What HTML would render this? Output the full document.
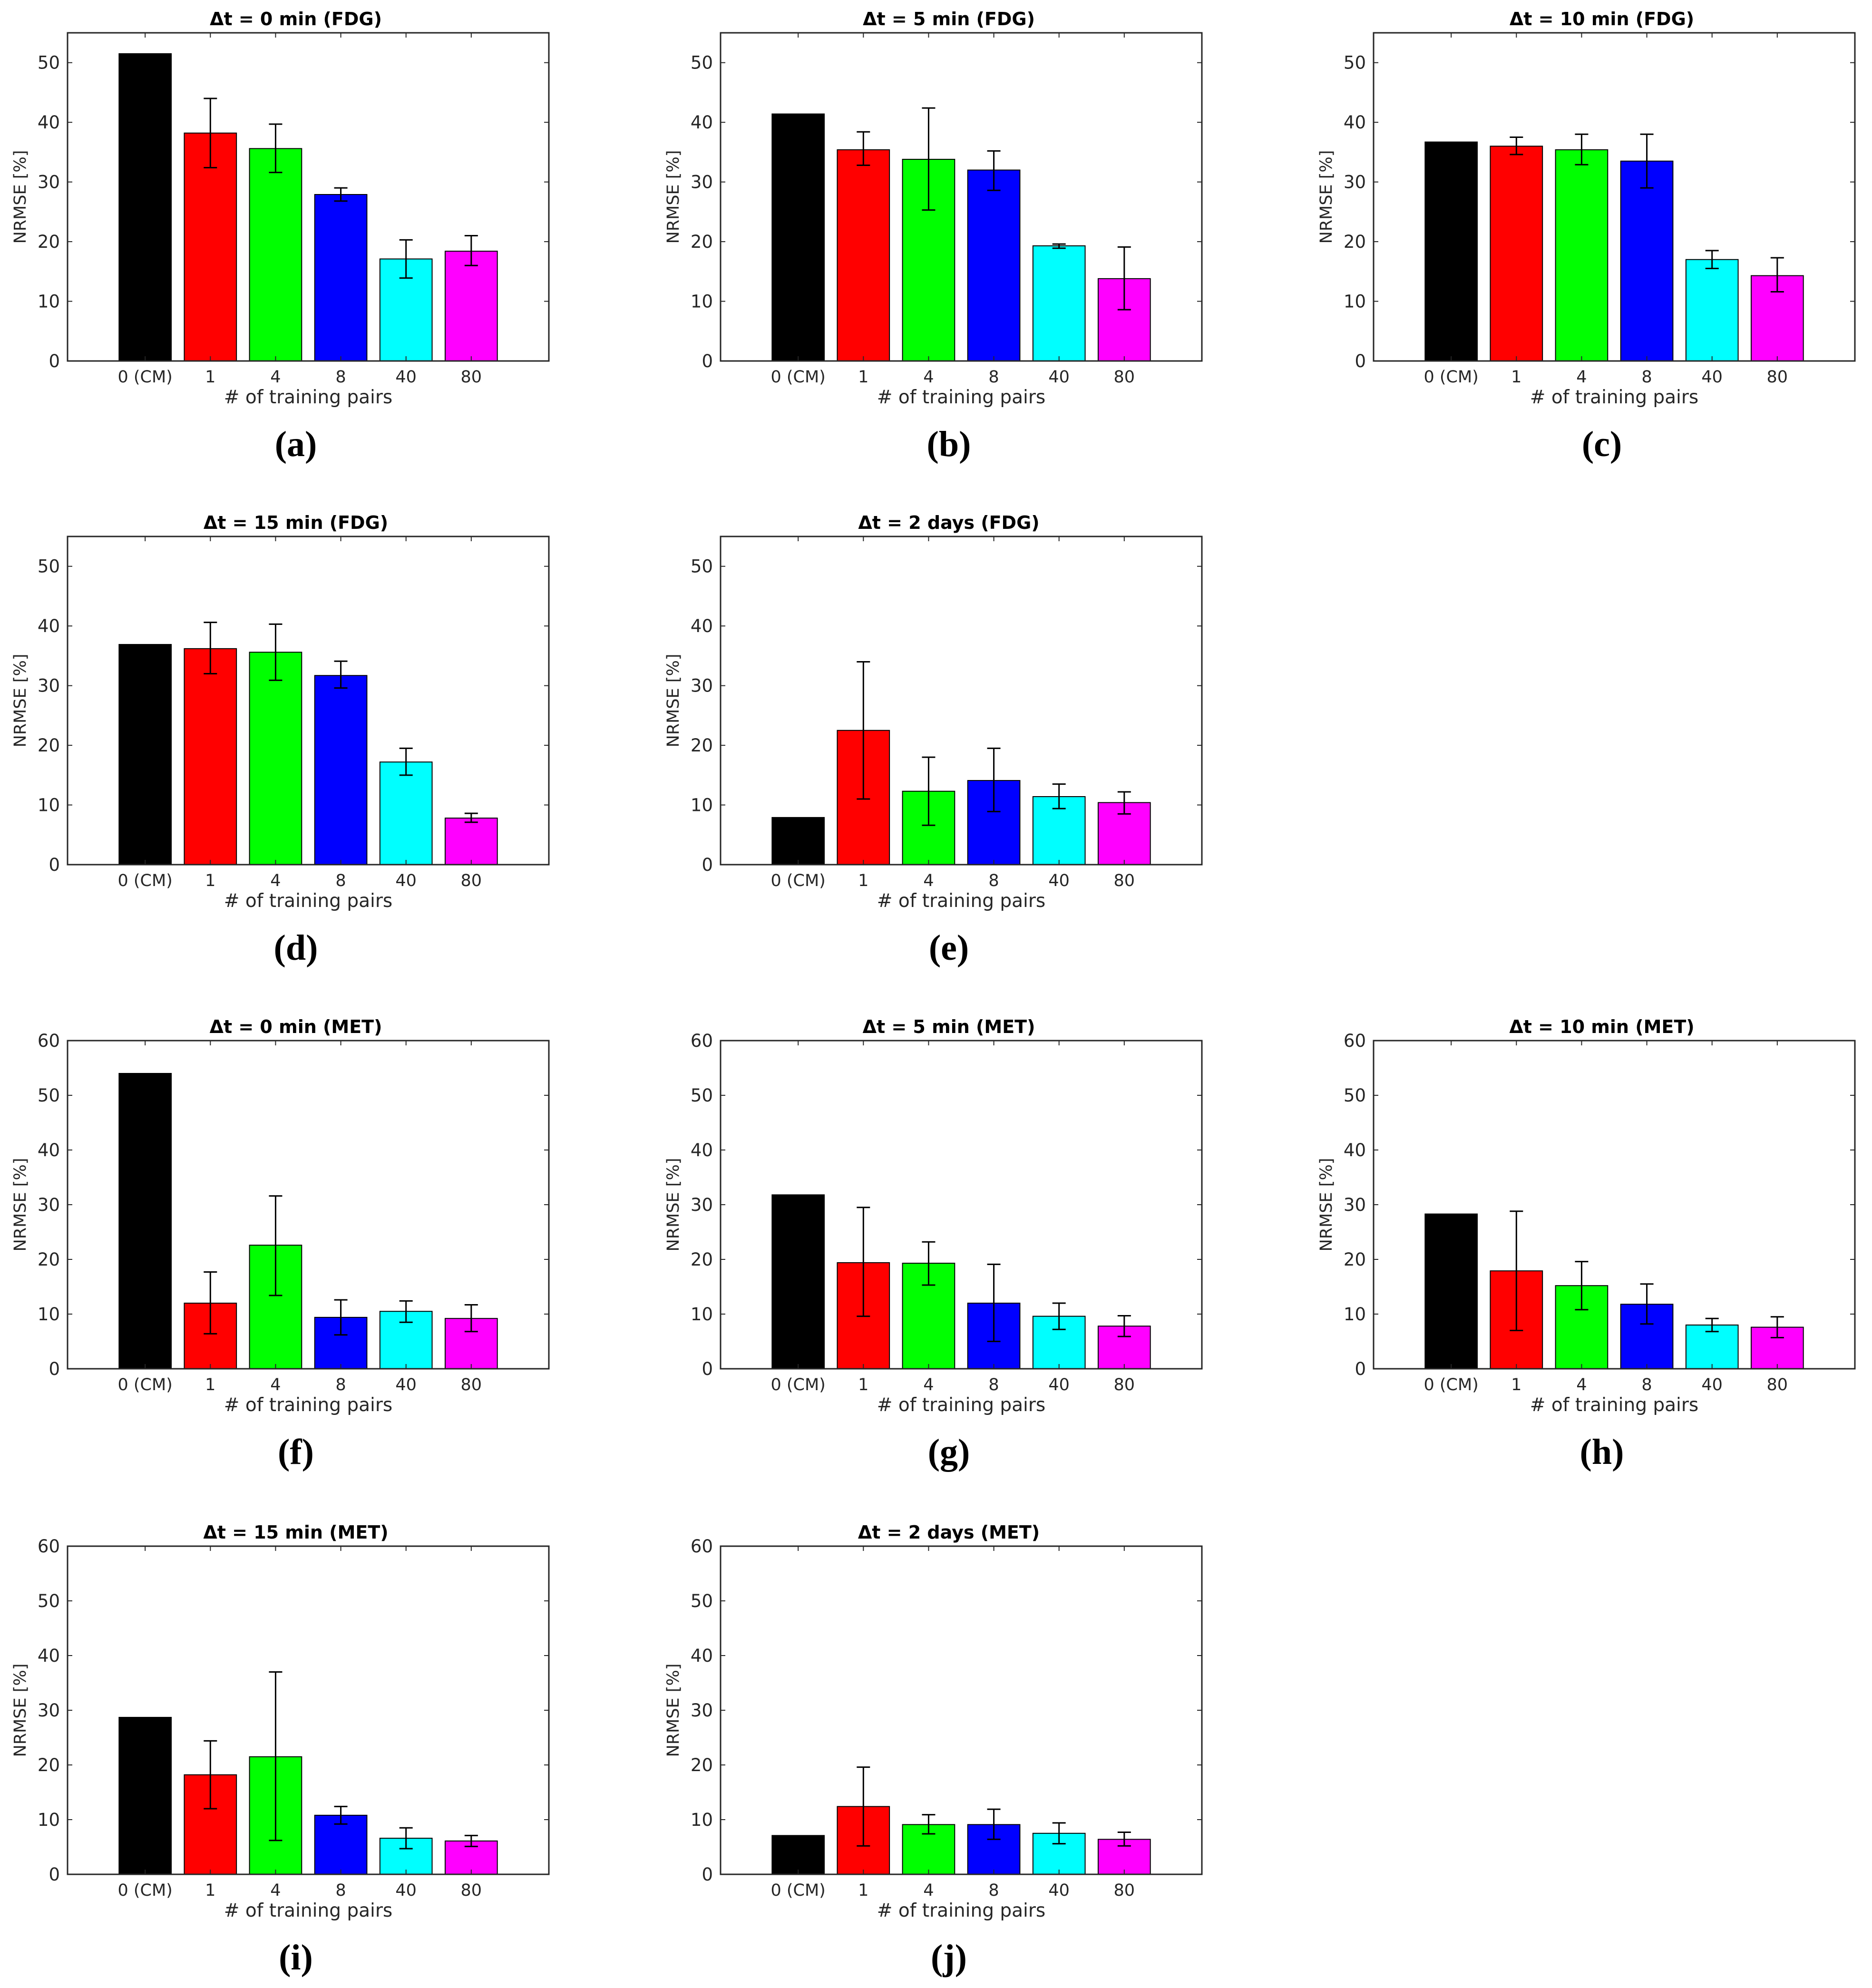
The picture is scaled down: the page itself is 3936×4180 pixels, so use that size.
<!DOCTYPE html>
<html><head><meta charset="utf-8"><style>
html,body{margin:0;padding:0;background:#fff;}
svg{display:block;}
</style></head><body>
<svg id="fig" width="3936" height="4180" viewBox="0 0 3936 4180" xmlns="http://www.w3.org/2000/svg"></svg>
<script>
const categories = ["0 (CM)", "1", "4", "8", "40", "80"];
const barColors = ["#000000", "#ff0000", "#00ff00", "#0000ff", "#00ffff", "#ff00ff"];
const titles = ["\u0394t = 0 min (FDG)", "\u0394t = 5 min (FDG)", "\u0394t = 10 min (FDG)", "\u0394t = 15 min (FDG)", "\u0394t = 2 days (FDG)",
  "\u0394t = 0 min (MET)", "\u0394t = 5 min (MET)", "\u0394t = 10 min (MET)", "\u0394t = 15 min (MET)", "\u0394t = 2 days (MET)"];
const panelLetters = ["(a)", "(b)", "(c)", "(d)", "(e)", "(f)", "(g)", "(h)", "(i)", "(j)"];
const yMaxes = [55, 55, 55, 55, 55, 60, 60, 60, 60, 60];
const yTicksFDG = [0, 10, 20, 30, 40, 50];
const yTicksMET = [0, 10, 20, 30, 40, 50, 60];
const means = [
  [51.5, 38.2, 35.6, 27.9, 17.1, 18.4],
  [41.4, 35.4, 33.8, 32.0, 19.3, 13.8],
  [36.7, 36.0, 35.4, 33.5, 17.0, 14.3],
  [36.9, 36.2, 35.6, 31.7, 17.2, 7.8],
  [7.9, 22.5, 12.3, 14.1, 11.4, 10.4],
  [54.0, 12.0, 22.6, 9.4, 10.5, 9.2],
  [31.8, 19.4, 19.3, 12.0, 9.6, 7.8],
  [28.3, 17.9, 15.2, 11.8, 8.0, 7.6],
  [28.7, 18.2, 21.5, 10.8, 6.6, 6.1],
  [7.1, 12.4, 9.1, 9.1, 7.5, 6.4]
];
const errLow = [
  [null, 32.4, 31.6, 26.8, 13.9, 16.0],
  [null, 32.8, 25.3, 28.6, 18.9, 8.6],
  [null, 34.6, 32.9, 29.0, 15.5, 11.6],
  [null, 32.0, 30.9, 29.6, 15.0, 7.1],
  [null, 11.0, 6.6, 8.9, 9.4, 8.5],
  [null, 6.4, 13.4, 6.2, 8.5, 6.8],
  [null, 9.6, 15.3, 5.0, 7.2, 5.9],
  [null, 7.0, 10.8, 8.2, 6.8, 5.7],
  [null, 12.0, 6.2, 9.2, 4.7, 5.1],
  [null, 5.2, 7.4, 6.4, 5.6, 5.2]
];
const errHigh = [
  [null, 44.0, 39.7, 29.0, 20.3, 21.0],
  [null, 38.4, 42.4, 35.2, 19.6, 19.1],
  [null, 37.5, 38.0, 38.0, 18.5, 17.3],
  [null, 40.6, 40.3, 34.1, 19.5, 8.6],
  [null, 34.0, 18.0, 19.5, 13.5, 12.2],
  [null, 17.7, 31.6, 12.6, 12.4, 11.7],
  [null, 29.5, 23.2, 19.1, 12.0, 9.7],
  [null, 28.8, 19.6, 15.5, 9.2, 9.5],
  [null, 24.4, 37.0, 12.4, 8.5, 7.1],
  [null, 19.6, 10.9, 11.9, 9.4, 7.7]
];

const NS = "http://www.w3.org/2000/svg";
const svg = document.getElementById("fig");
const colLefts = [142, 1515, 2888];
const rowTops = [69, 1128, 2188, 3251];
const panelPos = [[0,0],[1,0],[2,0],[0,1],[1,1],[0,2],[1,2],[2,2],[0,3],[1,3]];
const AW = 1012, AH = 690;
const AX = "#262626";
function mk(tag, attrs, parent) {
  const e = document.createElementNS(NS, tag);
  for (const k in attrs) e.setAttribute(k, attrs[k]);
  parent.appendChild(e);
  return e;
}
panelPos.forEach((pp, p) => {
  const L = colLefts[pp[0]], T = rowTops[pp[1]], B = T + AH, R = L + AW;
  const g = mk("g", {}, svg);
  
  
  const ymax = yMaxes[p];
  const yt = ymax === 55 ? yTicksFDG : yTicksMET;
  const ys = v => B - v / ymax * AH;
  const xs = i => L + (i + 1 + 0.19) / 7.38 * AW;
  const step = AW / 7.38;
  means[p].forEach((v, i) => {
    const bw = 0.8 * step;
    const r = mk("rect", {x: xs(i) - bw/2, y: ys(v), width: bw, height: B - ys(v), fill: barColors[i], stroke: "#000", "stroke-width": 2}, g);
    
    
  });
  means[p].forEach((v, i) => {
    if (errLow[p][i] === null) return;
    const x = xs(i), y1 = ys(errLow[p][i]), y2 = ys(errHigh[p][i]);
    const eg = mk("g", {stroke: "#000", "stroke-width": 3}, g);
    
    
    mk("line", {x1: x, x2: x, y1: y1, y2: y2}, eg);
    mk("line", {x1: x - 14, x2: x + 14, y1: y1, y2: y1}, eg);
    mk("line", {x1: x - 14, x2: x + 14, y1: y2, y2: y2}, eg);
  });
  const box = mk("rect", {x: L, y: T, width: AW, height: AH, fill: "none", stroke: AX, "stroke-width": 3}, g);
  
  
  yt.forEach(v => {
    const y = ys(v);
    mk("line", {x1: L, x2: L + 10, y1: y, y2: y, stroke: AX, "stroke-width": 2}, g);
    mk("line", {x1: R, x2: R - 10, y1: y, y2: y, stroke: AX, "stroke-width": 2}, g);
    const t = mk("text", {x: L - 16, y: y + 13, "text-anchor": "end", "font-family": "DejaVu Sans, Liberation Sans, sans-serif", "font-size": 37, fill: AX}, g);
    t.textContent = v;
    
    
  });
  categories.forEach((c, i) => {
    const x = xs(i);
    mk("line", {x1: x, x2: x, y1: B, y2: B - 10, stroke: AX, "stroke-width": 2}, g);
    mk("line", {x1: x, x2: x, y1: T, y2: T + 10, stroke: AX, "stroke-width": 2}, g);
    const t = mk("text", {x: x, y: B + 45, "text-anchor": "middle", "font-family": "DejaVu Sans, Liberation Sans, sans-serif", "font-size": 35, fill: AX}, g);
    t.textContent = c;
    
    
  });
  const xl = mk("text", {x: L + AW/2, y: B + 89, "text-anchor": "middle", "font-family": "DejaVu Sans, Liberation Sans, sans-serif", "font-size": 39, fill: AX}, g);
  xl.textContent = "# of training pairs";
  
  
  const yl = mk("text", {x: 0, y: 0, transform: `translate(${L - 88},${T + AH/2}) rotate(-90)`, "text-anchor": "middle", "font-family": "DejaVu Sans, Liberation Sans, sans-serif", "font-size": 35, fill: AX}, g);
  yl.textContent = "NRMSE [%]";
  
  
  const ti = mk("text", {x: L + AW/2 - 26, y: T - 16, "text-anchor": "middle", "font-family": "DejaVu Sans, Liberation Sans, sans-serif", "font-weight": "bold", "font-size": 38, fill: "#000"}, g);
  ti.textContent = titles[p];
  
  
  const pl = mk("text", {x: L + AW/2 - 26, y: B + 200, "text-anchor": "middle", "font-family": "Liberation Serif, serif", "font-weight": "bold", "font-size": 76, fill: "#000"}, g);
  pl.textContent = panelLetters[p];
  
  
});
</script>
</body></html>
